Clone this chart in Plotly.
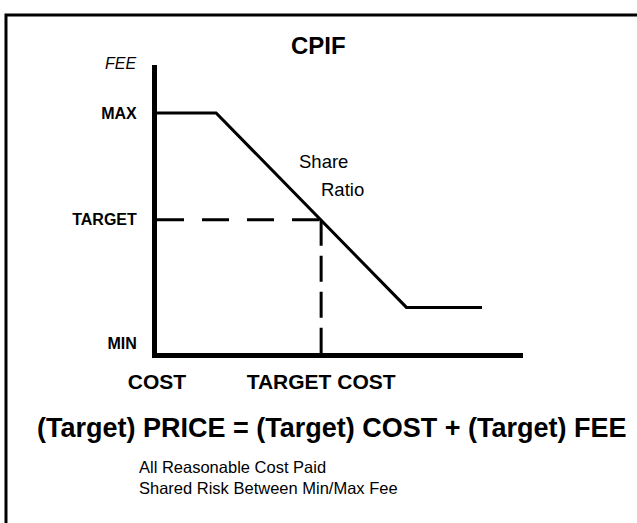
import plotly.graph_objects as go

# --- data (arbitrary units: cost on x, fee on y) ---------------------------
COST = [0, 36, 152, 198]          # fee curve knees along the cost axis
FEE = [100, 100, 19, 19]          # max fee, share-ratio slope, min fee
TARGET_COST = 100
TARGET_FEE = 55.5
X_MAX, Y_MAX = 223, 120

X_TICK_VALS = [0, TARGET_COST]
X_TICK_TEXT = ["COST", "TARGET COST"]
Y_TICK_VALS = [100, TARGET_FEE, 4]
Y_TICK_TEXT = ["MAX", "TARGET", "MIN"]

TITLE = "CPIF"
FORMULA = "(Target) PRICE = (Target) COST + (Target) FEE"
NOTES = ["All Reasonable Cost Paid", "Shared Risk Between Min/Max Fee"]

# --- page geometry ----------------------------------------------------------
W, H = 637, 523
ML, MR, MT, MB = 157, 114, 65, 170
PW, PH = W - ML - MR, H - MT - MB
FONT = "Liberation Sans, Arial, Helvetica, sans-serif"


def px(xp):   # page pixel -> paper x
    return (xp - ML) / PW


def py(yp):   # page pixel -> paper y
    return (H - MB - yp) / PH


fig = go.Figure()
fig.add_trace(go.Scatter(x=COST, y=FEE, mode="lines",
                         line=dict(color="black", width=3),
                         hoverinfo="skip", showlegend=False))
# target fee (horizontal) and target cost (vertical) guides
fig.add_trace(go.Scatter(x=[0, TARGET_COST], y=[TARGET_FEE, TARGET_FEE],
                         mode="lines",
                         line=dict(color="black", width=3, dash="27px,18px"),
                         hoverinfo="skip", showlegend=False))
fig.add_trace(go.Scatter(x=[TARGET_COST, TARGET_COST], y=[TARGET_FEE, 0],
                         mode="lines",
                         line=dict(color="black", width=3, dash="26px,10px"),
                         hoverinfo="skip", showlegend=False))

ann = [
    dict(x=px(318), y=py(45), text=f"<b>{TITLE}</b>", font=dict(size=24)),
    dict(x=px(138), y=py(64), text="<i>FEE</i>", xanchor="right",
         font=dict(size=16)),
    dict(x=85, y=79.6, xref="x", yref="y", text="Share", xanchor="left",
         font=dict(size=18.5)),
    dict(x=98.5, y=68.3, xref="x", yref="y", text="Ratio", xanchor="left",
         font=dict(size=18.5)),
    dict(x=px(332), y=py(428), text=f"<b>{FORMULA}</b>", font=dict(size=27)),
]
for i, t in enumerate(NOTES):
    ann.append(dict(x=px(137), y=py(467 + 21 * i), text=t, xanchor="left",
                    font=dict(size=16.5)))
for a in ann:
    a.setdefault("xref", "paper")
    a.setdefault("yref", "paper")
    a.setdefault("xanchor", "center")
    a["yanchor"] = "middle"
    a["showarrow"] = False
    a["font"].update(family=FONT, color="black")

# page frame: top and left edges of the scanned page border, as one open path
frame_path = (f"M {px(W + 30):.4f},{py(15):.4f} "
              f"L {px(6):.4f},{py(15):.4f} "
              f"L {px(6):.4f},{py(H + 30):.4f}")
frame = [dict(type="path", xref="paper", yref="paper", path=frame_path,
              fillcolor="rgba(0,0,0,0)", line=dict(color="black", width=3))]

fig.update_layout(
    width=W, height=H, margin=dict(l=ML, r=MR, t=MT, b=MB),
    paper_bgcolor="white", plot_bgcolor="white",
    annotations=ann, shapes=frame,
)
fig.update_xaxes(range=[0, X_MAX], showgrid=False, zeroline=False,
                 showline=True, linecolor="black", linewidth=5,
                 tickvals=X_TICK_VALS, ticktext=X_TICK_TEXT, ticks="",
                 ticklabelstandoff=6,
                 tickfont=dict(family=FONT, size=21, color="black", weight="bold"))
fig.update_yaxes(range=[0, Y_MAX], showgrid=False, zeroline=False,
                 showline=True, linecolor="black", linewidth=5,
                 tickvals=Y_TICK_VALS, ticktext=Y_TICK_TEXT, ticks="",
                 ticklabelstandoff=12,
                 tickfont=dict(family=FONT, size=16, color="black", weight="bold"))

# the page body has a default 8px margin; drop it so the figure sits at 0,0
fig.write_html("out.html", config={"displayModeBar": False},
               post_script="document.body.style.margin='0';")
